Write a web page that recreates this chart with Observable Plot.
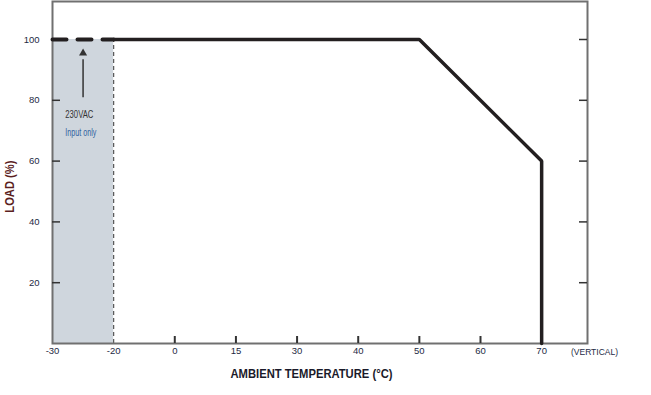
<!DOCTYPE html>
<html>
<head>
<meta charset="utf-8">
<script src="https://cdn.jsdelivr.net/npm/d3@7"></script>
<script src="https://cdn.jsdelivr.net/npm/@observablehq/plot@0.6"></script>
<style>
  html, body { margin: 0; padding: 0; background: #fff; }
  #chart svg { display: block; }
</style>
</head>
<body>
<div id="chart"></div>
<script>
// ---- data ----
const xTemps = [-30, -20, 0, 15, 30, 40, 50, 60, 70];
const xTickLabels = ["-30", "-20", "0", "15", "30", "40", "50", "60", "70"];
const xInnerTicks = [0, 15, 30, 40, 50, 60];
const yTicks = [20, 40, 60, 80, 100];
const dashedTemps = [-30, -20];
const dashedLoads = [100, 100];
const curveTemps = [-20, 50, 70, 70];
const curveLoads = [100, 100, 60, 0];
const shadeTemps = [-30, -20];
const shadeLoad = 100;
const noteTemp = -25;
const noteArrow = [81, 95.5];
const noteLines = ["230VAC", "Input only"];
const noteLoads = [75.3, 69.2];
const noteTextTemp = -27.9;
const yTitleLoad = 51.6;

// temperature -> evenly spaced position index (chart uses equal spacing per tick)
const idx = d3.scaleLinear().domain(xTemps).range(d3.range(xTemps.length));

const W = 651, H = 395;
const mL = 52, mR = 64, mT = 1, mB = 52;
const pw = W - mL - mR, ph = H - mT - mB;
const font = "'Liberation Sans', Arial, sans-serif";

const dashed = dashedTemps.map((t, i) => ({x: idx(t), y: dashedLoads[i]}));
const curve = curveTemps.map((t, i) => ({x: idx(t), y: curveLoads[i]}));

const chart = Plot.plot({
  width: W, height: H,
  marginLeft: mL, marginRight: mR, marginTop: mT, marginBottom: mB,
  style: {fontFamily: font, fontSize: "10px", color: "#1d2a44", background: "#fff"},
  x: {type: "linear", domain: [0, 8.75]},
  y: {domain: [0, 112.5]},
  marks: [
    // shaded region
    Plot.rectY([{x1: idx(shadeTemps[0]), x2: idx(shadeTemps[1]), y: shadeLoad}],
      {x1: "x1", x2: "x2", y: "y", fill: "#cfd6dd"}),
    Plot.ruleX([idx(shadeTemps[1])], {y1: 0, y2: shadeLoad, stroke: "#555", strokeWidth: 1.2, strokeDasharray: "4,3"}),
    // frame
    Plot.frame({stroke: "#707070", strokeWidth: 2}),
    // inner ticks
    Plot.ruleY(yTicks, {insetRight: pw - 8, stroke: "#333", strokeWidth: 1.5}),
    Plot.ruleY(yTicks, {insetLeft: pw - 8, stroke: "#333", strokeWidth: 1.5}),
    Plot.ruleX(xInnerTicks.map(idx), {insetTop: ph - 7, stroke: "#333", strokeWidth: 2}),
    // axes
    Plot.axisX(d3.range(xTemps.length), {tickSize: 0, tickPadding: 4, tickFormat: i => xTickLabels[i], label: null, fill: "#1d2a44", fontSize: 9.5}),
    Plot.axisY(yTicks, {tickSize: 0, tickPadding: 13, label: null, fill: "#1d2a44", fontSize: 9.5}),
    Plot.text(["(VERTICAL)"], {frameAnchor: "bottom-right", dx: 7, dy: 11, textAnchor: "middle", fill: "#1d2a44", fontSize: 9.5}),
    // curves
    Plot.line(dashed, {x: "x", y: "y", stroke: "#231f20", strokeWidth: 4, strokeDasharray: "14,11"}),
    Plot.line(curve, {x: "x", y: "y", stroke: "#231f20", strokeWidth: 3.5, strokeLinejoin: "miter"}),
    // annotation arrow
    Plot.link([{x: idx(noteTemp)}], {x1: "x", x2: "x", y1: noteArrow[0], y2: noteArrow[1] - 2, stroke: "#333", strokeWidth: 1.5}),
    Plot.dot([{x: idx(noteTemp), y: noteArrow[1]}], {x: "x", y: "y", symbol: "triangle", r: 3, fill: "#333", stroke: "none"}),
    Plot.text([noteLines[0]], {x: idx(noteTextTemp), y: noteLoads[0], textAnchor: "start", fill: "#333", fontSize: 11}),
    Plot.text([noteLines[1]], {x: idx(noteTextTemp), y: noteLoads[1], textAnchor: "start", fill: "#2f62a0", fontSize: 10}),
    // axis titles
    Plot.text(["AMBIENT TEMPERATURE (°C)"], {frameAnchor: "bottom", dx: -8.5, dy: 34, textAnchor: "middle", fill: "#1a1a2a", fontSize: 12.5, fontWeight: "bold"}),
    Plot.text(["LOAD (%)"], {x: idx(xTemps[0]), y: yTitleLoad, rotate: -90, dx: -42, textAnchor: "middle", fill: "#5c1f1f", fontSize: 12, fontWeight: "bold"})
  ]
});

// condense text widths to match the narrow typeface of the original
const condensed = {"230VAC": 28, "Input only": 31, "AMBIENT TEMPERATURE (°C)": 162, "LOAD (%)": 52, "(VERTICAL)": 47};
d3.select(chart).selectAll("text").each(function() {
  const t = this.textContent;
  if (condensed[t]) {
    this.setAttribute("textLength", condensed[t]);
    this.setAttribute("lengthAdjust", "spacingAndGlyphs");
  }
});
document.getElementById("chart").appendChild(chart);
</script>
</body>
</html>
